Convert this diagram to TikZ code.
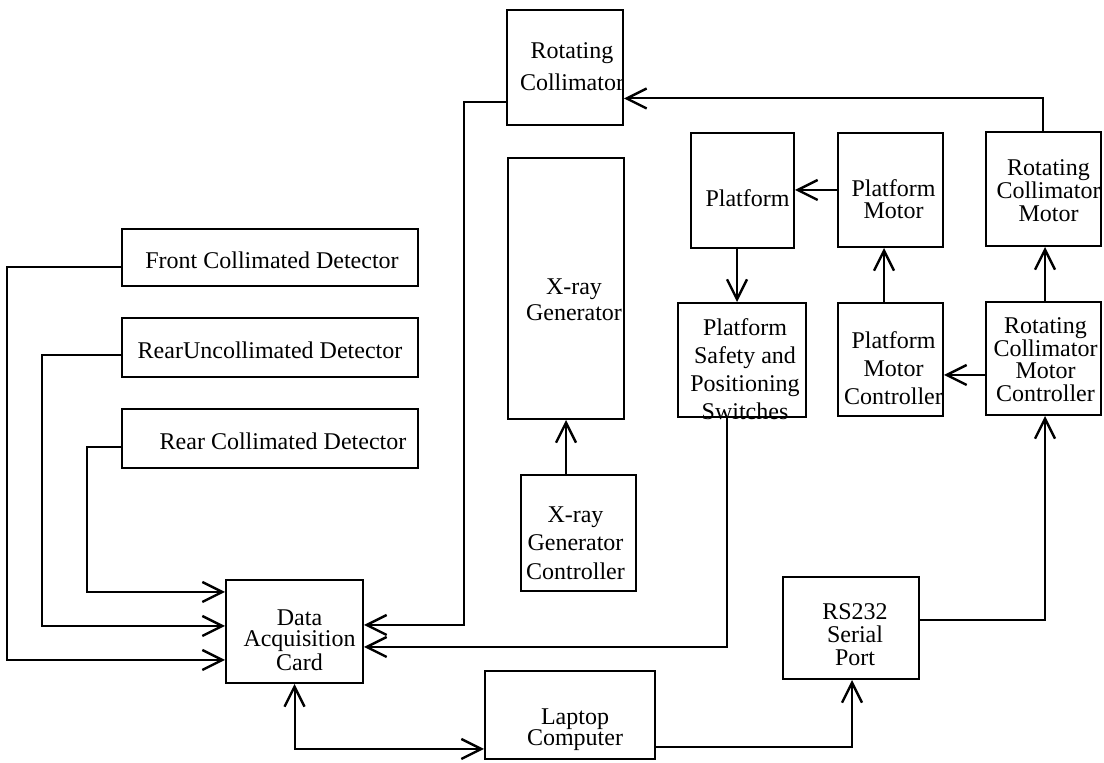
\documentclass[tikz,border=0pt]{standalone}
\usepackage{fontspec}
\setmainfont{Liberation Serif}
\usetikzlibrary{arrows.meta,calc}
\begin{document}
\begin{tikzpicture}[x=0.5pt,y=-0.5pt,
  box/.style={draw,line width=1pt,rectangle,inner sep=0pt},
  lbl/.style={inner sep=0pt,align=center,font=\fontsize{12}{12.5}\selectfont},
  sz/.style 2 args={minimum width=#1*0.5pt,minimum height=#2*0.5pt},
  bs/.style={font=\fontsize{12}{#1}\selectfont},
  arr/.style={line width=1pt,-{Straight Barb[length=10pt,width=10pt,line width=1.2pt]}},
  arrboth/.style={line width=1pt,{Straight Barb[length=10pt,width=10pt,line width=1.2pt]}-{Straight Barb[length=10pt,width=10pt,line width=1.2pt]}}
]
\useasboundingbox (0,0) rectangle (1104,763);
\fill[white] (0,0) rectangle (1104,763);

% boxes
\node[box,sz={116}{115}] (RC) at (565,67.5) {};
\node[box,sz={116}{261}] (XG) at (566,288.5) {};
\node[box,sz={115}{116}] (XGC) at (578.5,533) {};
\node[box,sz={103}{115}] (PF) at (742.5,190.5) {};
\node[box,sz={105}{114}] (PM) at (890.5,190) {};
\node[box,sz={115}{114}] (RCM) at (1043.5,189) {};
\node[box,sz={128}{114}] (PSPS) at (742,360) {};
\node[box,sz={105}{113}] (PMC) at (890.5,359.5) {};
\node[box,sz={115}{113}] (RCMC) at (1043.5,358.5) {};
\node[box,sz={136}{102}] (RS) at (851,628) {};
\node[box,sz={170}{88}] (LC) at (570,715) {};
\node[box,sz={137}{103}] (DAC) at (294.5,631.5) {};
\node[box,sz={296}{57}] (FCD) at (270,257.5) {};
\node[box,sz={296}{59}] (RUD) at (270,347.5) {};
\node[box,sz={296}{59}] (RCD) at (270,438.5) {};

% texts
\node[lbl,bs=16] (RCt) at ($(RC)+(7,-1)$) {Rotating\\Collimator};
\node[lbl,bs=13] (XGt) at ($(XG)+(8,11)$) {X-ray\\Generator};
\node[lbl,bs=14.25] (XGCt) at ($(XGC)+(-3,10)$) {X-ray\\Generator\\Controller};
\node[lbl] (PFt) at ($(PF)+(5,8)$) {Platform};
\node[lbl,bs=11] (PMt) at ($(PM)+(3,9)$) {Platform\\Motor};
\node[lbl,bs=11.5] (RCMt) at ($(RCM)+(5,2)$) {Rotating\\Collimator\\Motor};
\node[lbl,bs=14] (PSPSt) at ($(PSPS)+(3,9)$) {Platform\\Safety and\\Positioning\\Switches};
\node[lbl,bs=14] (PMCt) at ($(PMC)+(3,9)$) {Platform\\Motor\\Controller};
\node[lbl,bs=11.3] (RCMCt) at ($(RCMC)+(2,1)$) {Rotating\\Collimator\\Motor\\Controller};
\node[lbl,bs=11.5] (RSt) at ($(RS)+(4,7)$) {RS232\\Serial\\Port};
\node[lbl,bs=10.5] (LCt) at ($(LC)+(5,15)$) {Laptop\\Computer};
\node[lbl,bs=10.5] (DACt) at ($(DAC)+(5,9)$) {Data\\Acquisition\\Card};
\node[lbl] (FCDt) at ($(FCD)+(2,3)$) {Front Collimated Detector};
\node[lbl] (RUDt) at ($(RUD)+(0,3)$) {RearUncollimated Detector};
\node[lbl] (RCDt) at ($(RCD)+(13,3)$) {Rear Collimated Detector};

% detectors to DAC
\draw[arr] ($(FCD.west)+(0,9.5)$) -- ++(-114,0) |- ($(DAC.west)+(0,28.5)$);
\draw[arr] ($(RUD.west)+(0,7.5)$) -- ++(-79,0) |- ($(DAC.west)+(0,-5.5)$);
\draw[arr] ($(RCD.west)+(0,8.5)$) -- ++(-34,0) |- ($(DAC.west)+(0,-39.5)$);
% rotating collimator to DAC
\draw[arr] ($(RC.west)+(0,34.5)$) -- ++(-42,0) |- ($(DAC.east)+(0,-6.5)$);
% switches to DAC
\draw[arr] ($(PSPS.south)+(-15,0)$) |- ($(DAC.east)+(0,15.5)$);
% DAC <-> laptop
\draw[arrboth] (DAC.south) |- ($(LC.west)+(0,34)$);
% laptop to RS232
\draw[arr] ($(LC.east)+(0,32)$) -| ($(RS.south)+(1,0)$);
% RS232 to RCMC
\draw[arr] ($(RS.east)+(0,-8)$) -| ($(RCMC.south)+(1.5,0)$);
% RCMC to PMC
\draw[arr] ($(RCMC.west)+(0,16.5)$) coordinate (a1) -- (a1 -| PMC.east);
% PMC to PM
\draw[arr] ($(PMC.north)+(-6.5,0)$) coordinate (a2) -- (a2 |- PM.south);
% RCMC to RCM
\draw[arr] ($(RCMC.north)+(1.5,0)$) coordinate (a3) -- (a3 |- RCM.south);
% RCM to RC
\draw[arr] ($(RCM.north)+(-0.5,0)$) |- ($(RC.east)+(0,31)$);
% PM to Platform
\draw[arr] (PM.west) -- (PM.west -| PF.east);
% Platform to switches
\draw[arr] ($(PF.south)+(-5.5,0)$) coordinate (a4) -- (a4 |- PSPS.north);
% XGC to XG
\draw[arr] ($(XGC.north)+(-12.5,0)$) coordinate (a5) -- (a5 |- XG.south);
\end{tikzpicture}
\end{document}
